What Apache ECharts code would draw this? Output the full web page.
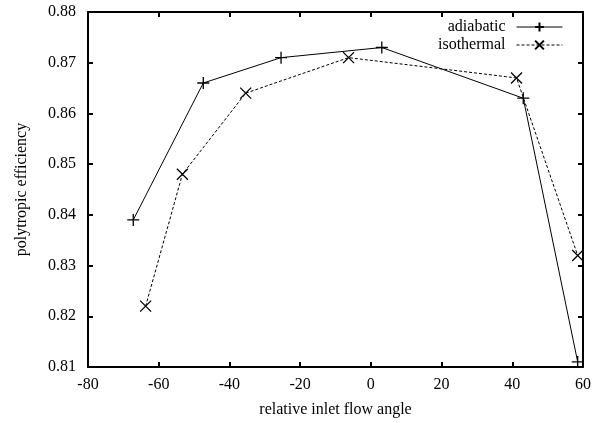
<!DOCTYPE html>
<html>
<head>
<meta charset="utf-8">
<script src="https://cdn.jsdelivr.net/npm/echarts@6/dist/echarts.min.js"></script>
<style>
  html, body { margin: 0; padding: 0; background: #fff; }
  #chart { width: 599px; height: 423px; }
</style>
</head>
<body>
<div id="chart"></div>
<script>
const adiabaticAngle = [-67.2, -47.4, -25.4, 3.1, 43.1, 58.5];
const adiabaticEff = [0.839, 0.866, 0.871, 0.873, 0.863, 0.811];
const isothermalAngle = [-63.7, -53.3, -35.4, -6.3, 41.2, 58.5];
const isothermalEff = [0.822, 0.848, 0.864, 0.871, 0.867, 0.832];

const plusSymbol = 'path://M0,5L10,5M5,0L5,10';
const crossSymbol = 'path://M0,0L10,10M10,0L0,10';
const font = 'Liberation Serif';
const fs = 16;

const pairs = (xs, ys) => xs.map((x, i) => [x, ys[i]]);

const chart = echarts.init(document.getElementById('chart'));

const xBase = {
  type: 'value', min: -80, max: 60, interval: 20,
  splitLine: { show: false },
  axisLine: { onZero: false, lineStyle: { color: '#000', width: 2 } },
  axisTick: { inside: true, length: 5, lineStyle: { color: '#000', width: 2 } }
};
const yBase = {
  type: 'value', min: 0.81, max: 0.88, interval: 0.01,
  splitLine: { show: false },
  axisLine: { onZero: false, lineStyle: { color: '#000', width: 2 } },
  axisTick: { inside: true, length: 5, lineStyle: { color: '#000', width: 2 } }
};

const legendBase = {
  right: 36, padding: 0, align: 'right', itemWidth: 46, itemHeight: 11,
  lineStyle: { width: 1 },
  textStyle: { fontFamily: font, fontSize: fs, color: '#000', padding: [0, 6, 0, 0] }
};

chart.setOption({
  animation: false,
  textStyle: { fontFamily: font },
  grid: { left: 88, right: 16, top: 12, bottom: 56 },
  legend: [
    Object.assign({}, legendBase, { data: ['adiabatic'], top: 19 }),
    Object.assign({}, legendBase, { data: ['isothermal'], top: 37 })
  ],
  xAxis: [
    Object.assign({}, xBase, {
      position: 'bottom',
      name: 'relative inlet flow angle', nameLocation: 'middle', nameGap: 35,
      nameTextStyle: { fontFamily: font, fontSize: fs, color: '#000' },
      axisLabel: { fontFamily: font, fontSize: fs, color: '#000', margin: 10 }
    }),
    Object.assign({}, xBase, { position: 'top', axisLabel: { show: false } })
  ],
  yAxis: [
    Object.assign({}, yBase, {
      position: 'left',
      name: 'polytropic efficiency', nameLocation: 'middle', nameGap: 58,
      nameTextStyle: { fontFamily: font, fontSize: fs, color: '#000' },
      axisLabel: {
        fontFamily: font, fontSize: fs, color: '#000', margin: 12,
        formatter: v => v.toFixed(2)
      }
    }),
    Object.assign({}, yBase, { position: 'right', axisLabel: { show: false } })
  ],
  series: [
    {
      name: 'adiabatic', type: 'line',
      xAxisIndex: 0, yAxisIndex: 0,
      data: pairs(adiabaticAngle, adiabaticEff),
      symbol: plusSymbol, symbolSize: 12,
      itemStyle: { color: '#000', borderColor: '#000', borderWidth: 1.3 },
      lineStyle: { color: '#000', width: 1 }
    },
    {
      name: 'isothermal', type: 'line',
      xAxisIndex: 0, yAxisIndex: 0,
      data: pairs(isothermalAngle, isothermalEff),
      symbol: crossSymbol, symbolSize: 11,
      itemStyle: { color: '#000', borderColor: '#000', borderWidth: 1.3 },
      lineStyle: { color: '#000', width: 1, type: [3, 2] }
    }
  ]
});
</script>
</body>
</html>
